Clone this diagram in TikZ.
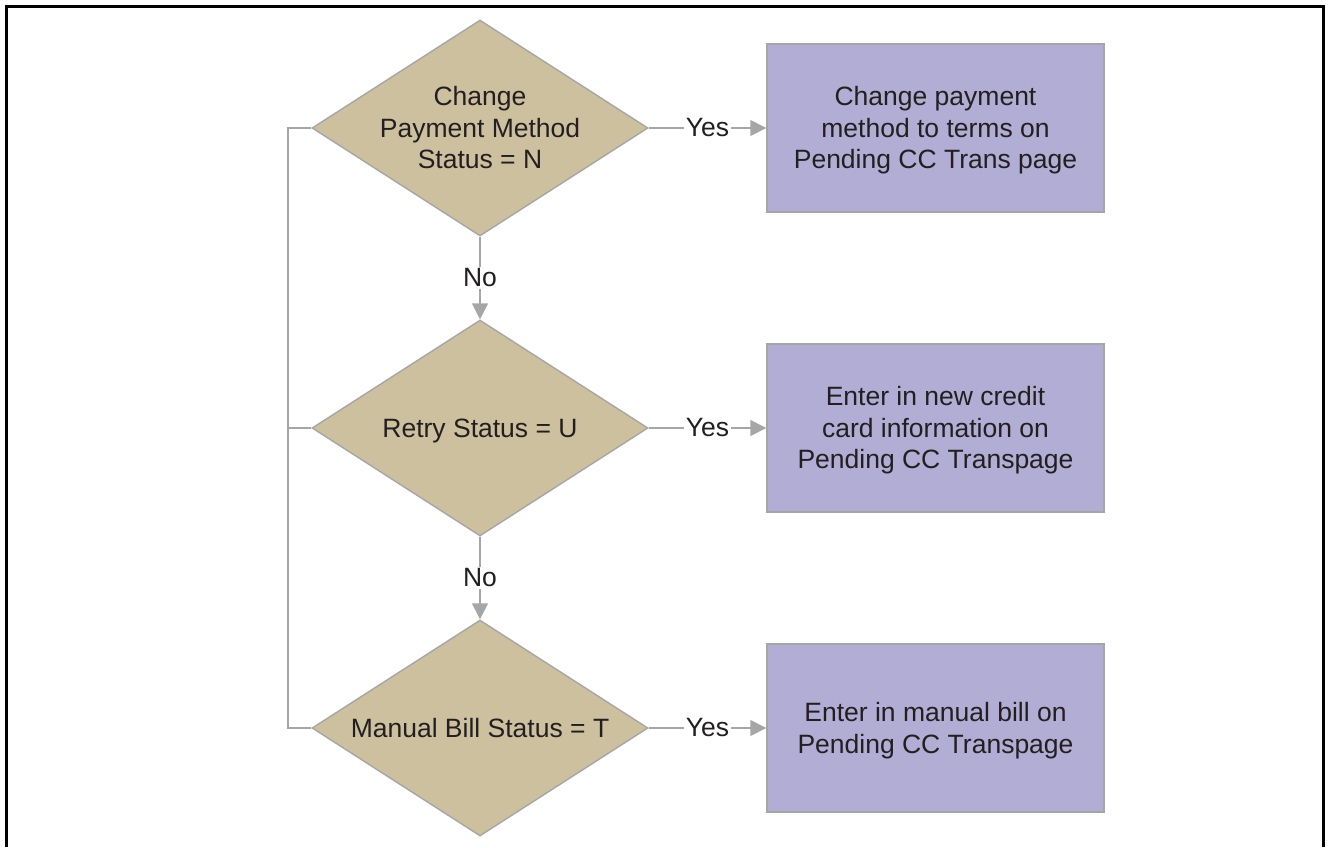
\documentclass[tikz,border=0pt]{standalone}
\usepackage{fontspec}
\setmainfont{Liberation Sans}
\usetikzlibrary{shapes.geometric,arrows.meta}
\definecolor{tan}{HTML}{CCC09F}
\definecolor{lav}{HTML}{B1ADD4}
\definecolor{edge}{HTML}{A6A6A6}
\definecolor{ink}{HTML}{231F20}
\tikzset{
  base/.style={font=\fontsize{26.5}{31.5}\selectfont, text=ink},
  decision/.style={diamond, draw=edge, line width=1.4pt, fill=tan, inner sep=0pt,
    minimum width=336pt, minimum height=216pt},
  dtext/.style={base, align=center, inner sep=0pt},
  action/.style={rectangle, draw=edge, line width=1.4pt, fill=lav,
    minimum width=337pt, minimum height=168pt, inner sep=0pt},
  atext/.style={base, align=center, inner sep=0pt, yshift=-2.5pt},
  flow/.style={draw=edge, line width=1.4pt, -{Triangle[length=16pt,width=16pt]}, fill=edge},
  link/.style={draw=edge, line width=1.4pt},
  tag/.style={base, fill=white, inner sep=2pt},
  frame/.style={draw=black, line width=3pt}
}
\begin{document}
\begin{tikzpicture}[x=1pt, y=-1pt]
\useasboundingbox (0,0) rectangle (1328,847);

% outer frame (open at the bottom)
\draw[frame] (6,847) -- (6,6) -- (1323,6) -- (1323,847);

% decisions
\node[decision] (d1) at (480,128) {};
\node[decision] (d2) at (480,428) {};
\node[decision] (d3) at (480,728) {};
\node[dtext] (t1) at (d1) {Change\\Payment Method\\Status = N};
\node[dtext, yshift=-3pt] (t2) at (d2) {Retry Status = U};
\node[dtext] (t3) at (d3) {Manual Bill Status = T};

% actions
\node[action] (a1) at (935.5,128) {};
\node[action] (a2) at (935.5,428) {};
\node[action] (a3) at (935.5,728) {};
\node[atext] (u1) at (a1) {Change payment\\method to terms on\\Pending CC Trans page};
\node[atext] (u2) at (a2) {Enter in new credit\\card information on\\Pending CC Transpage};
\node[atext] (u3) at (a3) {Enter in manual bill on\\Pending CC Transpage};

% yes branches
\draw[flow] (d1.east) -- node[tag] {Yes} (a1.west);
\draw[flow] (d2.east) -- node[tag] {Yes} (a2.west);
\draw[flow] (d3.east) -- node[tag] {Yes} (a3.west);

% no branches
\draw[flow] (d1.south) -- node[tag] {No} (d2.north);
\draw[flow] (d2.south) -- node[tag] {No} (d3.north);

% left-hand bracket joining the decisions
\coordinate (l1) at (288,128);
\coordinate (l2) at (288,428);
\coordinate (l3) at (288,728);
\draw[link] (d1.west) -- (l1) -- (l3) -- (d3.west);
\draw[link] (l2) -- (d2.west);
\end{tikzpicture}
\end{document}
